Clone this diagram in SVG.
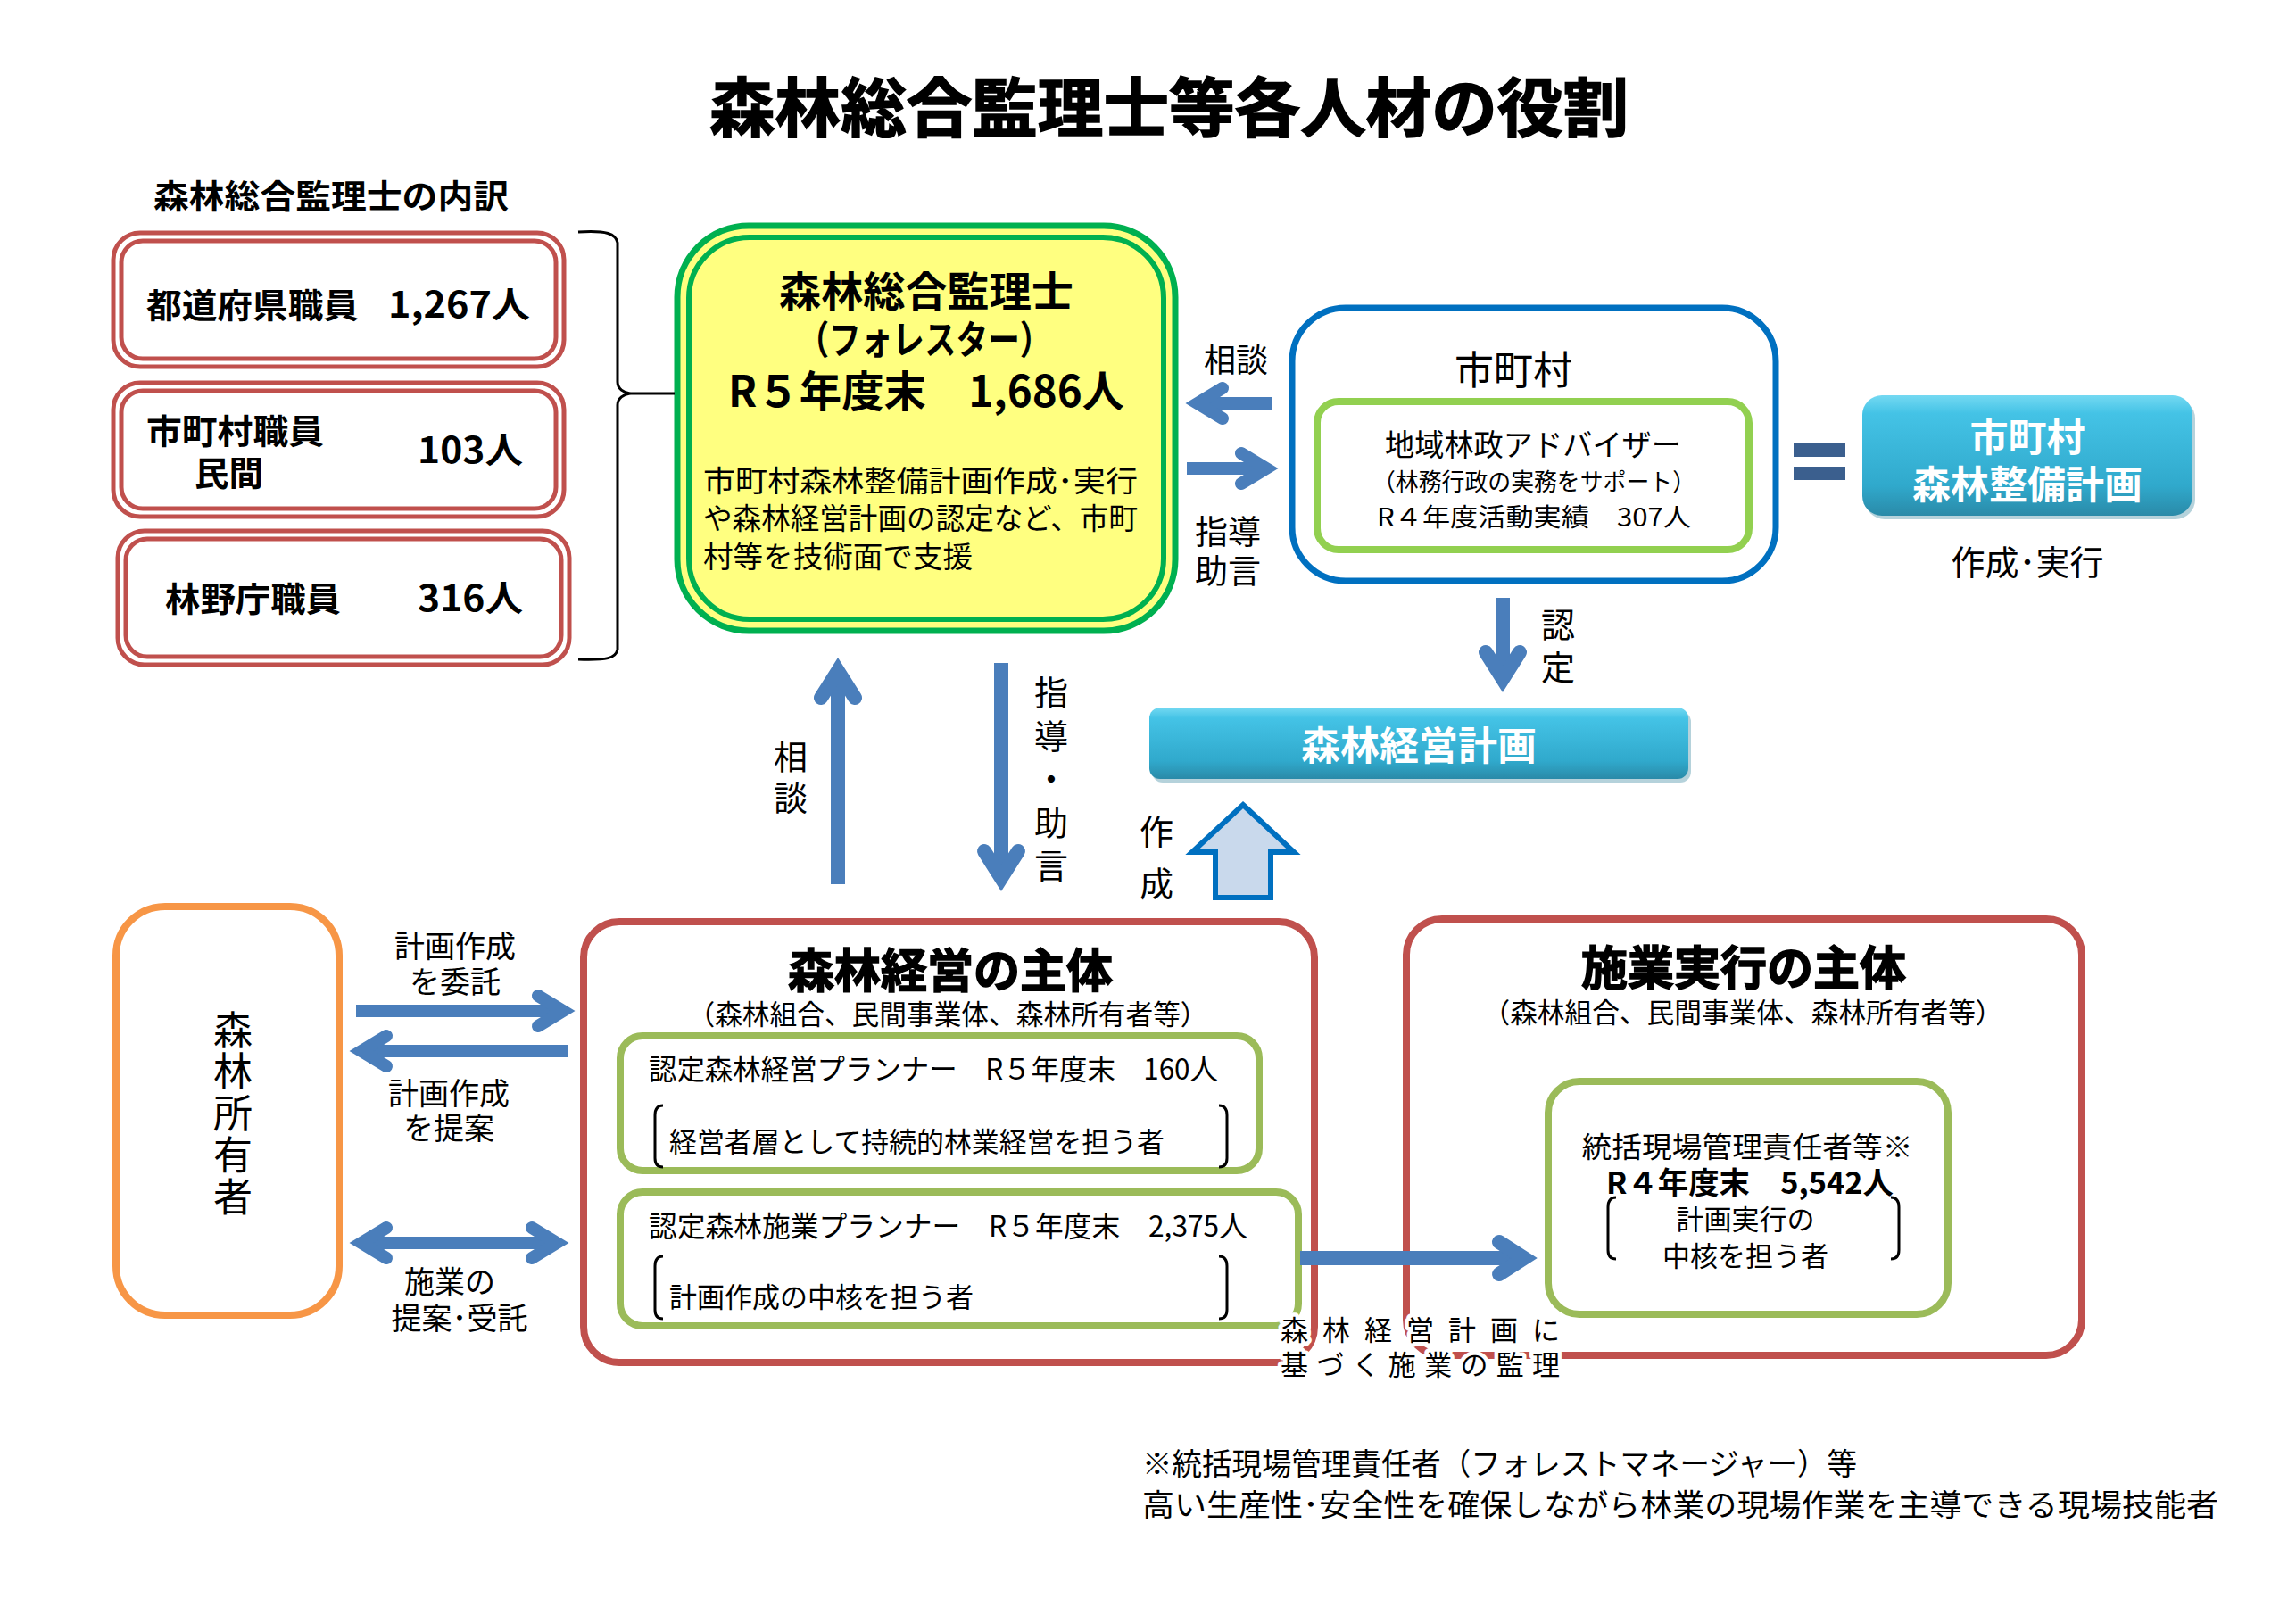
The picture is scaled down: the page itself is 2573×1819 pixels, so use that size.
<svg xmlns="http://www.w3.org/2000/svg" width="2573" height="1819" viewBox="0 0 2573 1819">
<style>
text{font-family:"Noto Sans CJK JP","Noto Sans",sans-serif;fill:#000}
.b{font-weight:700}
.h{stroke:#000;stroke-width:1.6}
.c{text-anchor:middle;dominant-baseline:central}
.s{dominant-baseline:central}
.v{writing-mode:vertical-rl;text-anchor:start}
.red{fill:none;stroke:#C0504D}
.grn{fill:#fff;stroke:#9BBB59;stroke-width:8}
.shaft{fill:none;stroke:#4A7EBB;stroke-linecap:butt}
.head{fill:none;stroke:#4A7EBB;stroke-linecap:round;stroke-linejoin:miter;stroke-miterlimit:6}
.brk{fill:none;stroke:#000;stroke-width:3}
.wt{fill:#fff}
</style>
<defs>
<linearGradient id="cy" x1="0" y1="0" x2="0" y2="1">
<stop offset="0" stop-color="#74D9F2"/>
<stop offset="0.15" stop-color="#44C3E6"/>
<stop offset="0.75" stop-color="#30A9CC"/>
<stop offset="1" stop-color="#2A8AA8"/>
</linearGradient>
</defs>
<rect width="2573" height="1819" fill="#fff"/>

<text id="title" class="b c h" x="1310" y="115" font-size="72" textLength="1030" lengthAdjust="spacingAndGlyphs">森林総合監理士等各人材の役割</text>

<g id="breakdown">
<text class="b s" x="172" y="218" font-size="37" textLength="398" lengthAdjust="spacingAndGlyphs">森林総合監理士の内訳</text>
</g>

<g id="pref">
<rect class="red" x="127" y="261" width="505" height="150" rx="30" stroke-width="5"/>
<rect class="red" x="136" y="270" width="487" height="132" rx="24" stroke-width="5"/>
<text class="b s" x="164" y="339" font-size="38" textLength="238" lengthAdjust="spacingAndGlyphs">都道府県職員</text>
<text class="b s" x="435" y="339" font-size="40" textLength="159" lengthAdjust="spacingAndGlyphs">1,267人</text>
</g>
<g id="muni-staff">
<rect class="red" x="127" y="429" width="505" height="150" rx="30" stroke-width="5"/>
<rect class="red" x="136" y="438" width="487" height="132" rx="24" stroke-width="5"/>
<text class="b s" font-size="38"><tspan x="164" y="480" textLength="199" lengthAdjust="spacingAndGlyphs">市町村職員</tspan><tspan x="218" y="527" textLength="77" lengthAdjust="spacingAndGlyphs">民間</tspan></text>
<text class="b s" x="468" y="502" font-size="40" textLength="118" lengthAdjust="spacingAndGlyphs">103人</text>
</g>
<g id="rinya">
<rect class="red" x="132" y="595" width="506" height="150" rx="30" stroke-width="5"/>
<rect class="red" x="141" y="604" width="488" height="132" rx="24" stroke-width="5"/>
<text class="b s" x="185" y="668" font-size="38" textLength="197" lengthAdjust="spacingAndGlyphs">林野庁職員</text>
<text class="b s" x="468" y="668" font-size="40" textLength="118" lengthAdjust="spacingAndGlyphs">316人</text>
</g>

<g id="forester">
<rect x="759" y="253" width="558" height="454" rx="80" fill="#FFFF80" stroke="#00B050" stroke-width="7"/>
<rect x="772" y="266" width="532" height="428" rx="68" fill="#FFFF80" stroke="#00B050" stroke-width="6"/>
<text class="b c"><tspan x="1038" y="323" font-size="46" textLength="330" lengthAdjust="spacingAndGlyphs">森林総合監理士</tspan><tspan x="1036" y="378" font-size="44" textLength="285" lengthAdjust="spacingAndGlyphs">（フォレスター）</tspan><tspan x="1038" y="435" font-size="48" textLength="444" lengthAdjust="spacingAndGlyphs">R５年度末　1,686人</tspan></text>
<text class="s" font-size="33"><tspan x="788" y="537" textLength="487" lengthAdjust="spacingAndGlyphs">市町村森林整備計画作成･実行</tspan><tspan x="788" y="579" textLength="487" lengthAdjust="spacingAndGlyphs">や森林経営計画の認定など、市町</tspan><tspan x="788" y="622" textLength="302" lengthAdjust="spacingAndGlyphs">村等を技術面で支援</tspan></text>
</g>

<g id="municipality">
<rect x="1448" y="345" width="542" height="306" rx="60" fill="#fff" stroke="#0070C0" stroke-width="7"/>
<text class="c" x="1696" y="412" font-size="44">市町村</text>
<rect x="1476" y="450" width="484" height="166" rx="24" fill="#fff" stroke="#92D050" stroke-width="8"/>
<text class="c"><tspan x="1718" y="496" font-size="34" textLength="332" lengthAdjust="spacingAndGlyphs">地域林政アドバイザー</tspan><tspan x="1719" y="538" font-size="27" textLength="362" lengthAdjust="spacingAndGlyphs">（林務行政の実務をサポート）</tspan><tspan x="1719" y="578" font-size="28" textLength="352" lengthAdjust="spacingAndGlyphs">R４年度活動実績　307人</tspan></text>
</g>

<g id="equals">
<rect x="2010" y="497" width="58" height="15" fill="#3B5F8E"/>
<rect x="2010" y="523" width="58" height="15" fill="#3B5F8E"/>
</g>

<g id="muni-plan">
<rect x="2090" y="447" width="370" height="135" rx="22" fill="#2A7F99" opacity="0.35"/>
<rect x="2087" y="443" width="370" height="135" rx="22" fill="url(#cy)"/>
<text class="b c wt" font-size="43"><tspan x="2272" y="487">市町村</tspan><tspan x="2272" y="540">森林整備計画</tspan></text>
<text class="c" x="2272" y="627" font-size="38">作成･実行</text>
</g>

<g id="mgmt-plan">
<rect x="1291" y="797" width="604" height="80" rx="12" fill="#2A7F99" opacity="0.35"/>
<rect x="1288" y="793" width="604" height="80" rx="12" fill="url(#cy)"/>
<text class="b c wt" x="1590" y="833" font-size="44">森林経営計画</text>
</g>

<g id="owner">
<rect x="130" y="1016" width="250" height="458" rx="55" fill="#fff" stroke="#F79646" stroke-width="8"/>
<text class="v" x="261" y="1132" font-size="44" letter-spacing="2.75">森林所有者</text>
</g>

<g id="mgmt-entity">
<rect class="red" x="654" y="1033" width="819" height="494" rx="40" stroke-width="8" fill="#fff"/>
<text class="b c h" x="1065" y="1084" font-size="52">森林経営の主体</text>
<text class="c" x="1062" y="1134" font-size="31" textLength="583" lengthAdjust="spacingAndGlyphs">（森林組合、民間事業体、森林所有者等）</text>
<rect class="grn" x="695" y="1161" width="716" height="151" rx="25"/>
<text class="s" font-size="31"><tspan x="727" y="1196" font-size="32" textLength="638" lengthAdjust="spacingAndGlyphs">認定森林経営プランナー　R５年度末　160人</tspan><tspan x="750" y="1277" textLength="555" lengthAdjust="spacingAndGlyphs">経営者層として持続的林業経営を担う者</tspan></text>
<path class="brk" d="M743,1239 Q734,1239 734,1250 L734,1298 Q734,1308 743,1308"/>
<path class="brk" d="M1366,1239 Q1375,1239 1375,1250 L1375,1298 Q1375,1308 1366,1308"/>
<rect class="grn" x="695" y="1336" width="760" height="150" rx="25"/>
<text class="s" font-size="31"><tspan x="727" y="1372" font-size="32" textLength="671" lengthAdjust="spacingAndGlyphs">認定森林施業プランナー　R５年度末　2,375人</tspan><tspan x="750" y="1451" textLength="341" lengthAdjust="spacingAndGlyphs">計画作成の中核を担う者</tspan></text>
<path class="brk" d="M743,1408 Q734,1408 734,1419 L734,1468 Q734,1478 743,1478"/>
<path class="brk" d="M1366,1408 Q1375,1408 1375,1419 L1375,1468 Q1375,1478 1366,1478"/>
</g>

<g id="exec-entity">
<rect class="red" x="1576" y="1030" width="757" height="489" rx="40" stroke-width="8" fill="#fff"/>
<text class="b c h" x="1954" y="1081" font-size="52">施業実行の主体</text>
<text class="c" x="1953" y="1132" font-size="31" textLength="583" lengthAdjust="spacingAndGlyphs">（森林組合、民間事業体、森林所有者等）</text>
<rect class="grn" x="1735" y="1212" width="448" height="261" rx="35"/>
<text class="c" font-size="31"><tspan x="1958" y="1283" font-size="32" textLength="371" lengthAdjust="spacingAndGlyphs">統括現場管理責任者等※</tspan><tspan x="1961" y="1323" font-size="34" font-weight="700" textLength="322" lengthAdjust="spacingAndGlyphs">R４年度末　5,542人</tspan><tspan x="1956" y="1364">計画実行の</tspan><tspan x="1956" y="1405">中核を担う者</tspan></text>
<path class="brk" d="M1811,1342 Q1802,1342 1802,1353 L1802,1401 Q1802,1411 1811,1411"/>
<path class="brk" d="M2119,1342 Q2128,1342 2128,1353 L2128,1401 Q2128,1411 2119,1411"/>
</g>

<g id="connectors">
<path d="M648,260 C680,258 690,262 692,272 L692,428 C692,436 699,440 706,441 C699,442 692,446 692,454 L692,728 C690,738 680,740 648,739" fill="none" stroke="#000" stroke-width="3"/>
<line x1="706" y1="441" x2="756" y2="441" stroke="#000" stroke-width="3"/>

<line class="shaft" x1="1426" y1="452" x2="1342" y2="452" stroke-width="14"/>
<path class="head" d="M1370,435 L1342,452 L1370,469" stroke-width="14"/>
<line class="shaft" x1="1330" y1="525" x2="1419" y2="525" stroke-width="14"/>
<path class="head" d="M1391,508 L1419,525 L1391,542" stroke-width="14"/>

<line class="shaft" x1="1684" y1="670" x2="1684" y2="761" stroke-width="16"/>
<path class="head" d="M1665,731 L1684,761 L1703,731" stroke-width="16"/>

<line class="shaft" x1="939" y1="991" x2="939" y2="752" stroke-width="16"/>
<path class="head" d="M920,782 L939,752 L958,782" stroke-width="16"/>
<line class="shaft" x1="1122" y1="743" x2="1122" y2="984" stroke-width="16"/>
<path class="head" d="M1103,954 L1122,984 L1141,954" stroke-width="16"/>

<path d="M1393,902 L1450,955 L1424,955 L1424,1006 L1362,1006 L1362,955 L1336,955 Z" fill="#C9D9EC" stroke="#0070C0" stroke-width="6" stroke-linejoin="miter"/>

<line class="shaft" x1="399" y1="1133" x2="631" y2="1133" stroke-width="14"/>
<path class="head" d="M603,1116 L631,1133 L603,1150" stroke-width="14"/>
<line class="shaft" x1="637" y1="1178" x2="405" y2="1178" stroke-width="14"/>
<path class="head" d="M433,1161 L405,1178 L433,1195" stroke-width="14"/>
<line class="shaft" x1="405" y1="1393" x2="624" y2="1393" stroke-width="14"/>
<path class="head" d="M433,1376 L405,1393 L433,1410" stroke-width="14"/>
<path class="head" d="M596,1376 L624,1393 L596,1410" stroke-width="14"/>

<line class="shaft" x1="1457" y1="1410" x2="1708" y2="1410" stroke-width="16"/>
<path class="head" d="M1680,1392 L1708,1410 L1680,1428" stroke-width="16"/>
</g>

<g id="labels">
<text class="c" x="1385" y="401" font-size="36">相談</text>
<text class="c" font-size="37"><tspan x="1376" y="594">指導</tspan><tspan x="1376" y="638">助言</tspan></text>
<text class="v" x="1746" y="681" font-size="38" letter-spacing="10">認定</text>
<text class="v" x="886" y="829" font-size="38" letter-spacing="8">相談</text>
<text class="v" x="1178" y="757" font-size="38" letter-spacing="10.5">指導・助言</text>
<text class="v" x="1296" y="913" font-size="38" letter-spacing="20">作成</text>
<text class="c" font-size="34"><tspan x="510" y="1058">計画作成</tspan><tspan x="510" y="1098">を委託</tspan></text>
<text class="c" font-size="34"><tspan x="503" y="1223">計画作成</tspan><tspan x="503" y="1262">を提案</tspan></text>
<text class="c" font-size="34"><tspan x="504" y="1434">施業の</tspan><tspan x="515" y="1475">提案･受託</tspan></text>
<text class="s" font-size="31" stroke="#fff" stroke-width="9" paint-order="stroke" stroke-linejoin="round"><tspan x="1435" y="1488" textLength="313" lengthAdjust="spacing">森林経営計画に</tspan><tspan x="1435" y="1527" textLength="313" lengthAdjust="spacing">基づく施業の監理</tspan></text>
</g>

<g id="footnote">
<text class="s" font-size="34"><tspan x="1280" y="1638" textLength="801" lengthAdjust="spacingAndGlyphs">※統括現場管理責任者（フォレストマネージャー）等</tspan><tspan x="1280" y="1684" textLength="1206" lengthAdjust="spacingAndGlyphs">高い生産性･安全性を確保しながら林業の現場作業を主導できる現場技能者</tspan></text>
</g>
</svg>
